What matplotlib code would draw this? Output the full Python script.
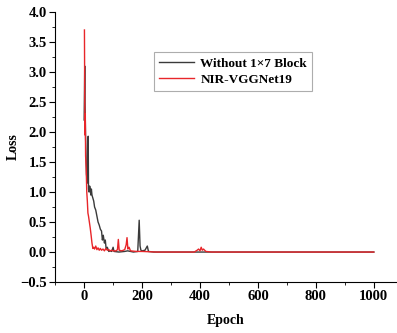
import matplotlib
matplotlib.use("Agg")
import matplotlib.pyplot as plt
from matplotlib.ticker import MultipleLocator

# Without 1x7 Block (epoch, loss)
black_epoch = [0, 2, 3, 5, 8, 10, 12, 14, 15, 17, 19, 21, 23, 25, 27, 30, 33, 36, 40, 44, 48,
               52, 56, 60, 63, 66, 70, 73, 76, 80, 85, 90, 95, 100, 103, 120, 140, 150, 170,
               185, 190, 193, 196, 200, 210, 218, 222, 240, 1000]
black_loss = [2.2, 3.1, 2.5, 1.9, 1.3, 1.2, 1.15, 1.93, 1.05, 1.0, 1.1, 1.05, 0.95, 1.05, 0.95,
              0.9, 0.85, 0.75, 0.7, 0.6, 0.5, 0.45, 0.38, 0.35, 0.2, 0.28, 0.15, 0.2, 0.05, 0.08,
              0.01, 0.02, 0.01, 0.08, 0.01, 0.0, 0.01, 0.02, 0.0, 0.01, 0.53, 0.1, 0.03, 0.02,
              0.03, 0.1, 0.01, 0.0, 0.0]

# NIR-VGGNet19 (epoch, loss)
red_epoch = [1, 2, 3, 4, 5, 7, 9, 11, 13, 15, 18, 21, 24, 27, 30, 33, 36, 40, 44, 48, 52, 56,
             60, 65, 70, 75, 80, 85, 90, 95, 100, 110, 115, 118, 121, 130, 140, 145, 148, 151,
             155, 160, 180, 200, 250, 380, 390, 395, 400, 404, 408, 412, 420, 440, 1000]
red_loss = [3.7, 2.6, 1.95, 2.3, 1.6, 1.4, 1.0, 0.85, 0.65, 0.6, 0.5, 0.4, 0.28, 0.15, 0.06,
            0.08, 0.05, 0.1, 0.04, 0.07, 0.03, 0.06, 0.03, 0.05, 0.02, 0.06, 0.03, 0.04, 0.02,
            0.03, 0.02, 0.02, 0.04, 0.21, 0.03, 0.02, 0.04, 0.12, 0.24, 0.05, 0.08, 0.02, 0.01,
            0.01, 0.0, 0.0, 0.03, 0.05, 0.02, 0.08, 0.03, 0.05, 0.01, 0.0, 0.0]

plt.rcParams['font.family'] = ['Liberation Serif', 'DejaVu Serif']
plt.rcParams['font.weight'] = 'bold'

fig = plt.figure(figsize=(3.97, 3.33), dpi=100)
ax = fig.add_axes([0.139, 0.153, 0.861, 0.811])

ax.plot(black_epoch, black_loss, color='#3a3a3a', lw=1.0, label='Without 1×7 Block')
ax.plot(red_epoch, red_loss, color='#e8262a', lw=1.0, label='NIR-VGGNet19')

ax.set_xlim(-100, 1080)
ax.set_ylim(-0.5, 4.0)
ax.xaxis.set_major_locator(MultipleLocator(200))
ax.xaxis.set_minor_locator(MultipleLocator(100))
ax.yaxis.set_major_locator(MultipleLocator(0.5))
ax.yaxis.set_minor_locator(MultipleLocator(0.25))
ax.spines['top'].set_visible(False)
ax.spines['right'].set_visible(False)
ax.tick_params(which='major', length=4, labelsize=10.5, pad=2)
ax.tick_params(which='minor', length=2.5)
ax.set_xticks([0, 200, 400, 600, 800, 1000])
for lab in ax.get_xticklabels() + ax.get_yticklabels():
    lab.set_fontweight('bold')

ax.set_xlabel('Epoch', fontsize=10, fontweight='bold', labelpad=8)
ax.set_ylabel('Loss', fontsize=10, fontweight='bold', labelpad=0)

leg = ax.legend(loc='upper left', bbox_to_anchor=(0.27, 0.875), fontsize=9.5, frameon=True,
                fancybox=False, edgecolor='#999999', borderpad=0.4, handlelength=2.6,
                labelspacing=0.3, handletextpad=0.5)
leg.get_frame().set_linewidth(0.8)

plt.savefig('out.png', dpi=100)
